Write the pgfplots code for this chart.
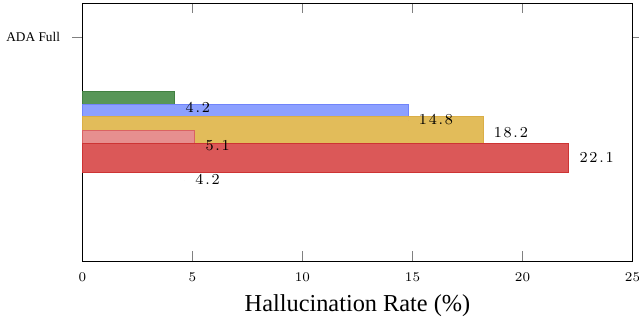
\documentclass[border=0pt]{standalone}
\usepackage{pgfplots}
\pgfplotsset{compat=1.18}
\usepackage{fontspec}
\setmainfont{Liberation Serif}
\definecolor{cgreen}{RGB}{88,150,88}
\definecolor{cgreenD}{RGB}{66,128,66}
\definecolor{cblue}{RGB}{140,160,255}
\definecolor{cblueD}{RGB}{112,132,250}
\definecolor{cyellow}{RGB}{226,188,90}
\definecolor{cyellowD}{RGB}{218,174,70}
\definecolor{cpink}{RGB}{230,143,143}
\definecolor{cpinkD}{RGB}{218,98,98}
\definecolor{cred}{RGB}{219,88,88}
\definecolor{credD}{RGB}{205,52,52}
\newcommand{\kk}{\mkern2mu}
\begin{document}
\begin{tikzpicture}
\begin{axis}[at={(0,0)}, anchor=south west, scale only axis,
  width=289.5pt, height=135.8pt,
  xmin=0, xmax=25, ymin=3, ymax=261, y dir=reverse,
  xtick={0,5,10,15,20,25}, ytick=\empty,
  tick align=inside, major tick length=5.5pt,
  tick label style={font=\scriptsize},
  xticklabel style={yshift=-2.8pt},
  xlabel={Hallucination Rate (\%)},
  xlabel style={at={(axis description cs:0.5,0)}, anchor=base, yshift=-26.3pt, font=\fontsize{12.8}{15}\selectfont},
  clip=false]
\addplot[xbar, bar width=13, bar shift=0pt, fill=cgreen, draw=cgreenD] coordinates {(4.2,97.5)};
\addplot[xbar, bar width=13, bar shift=0pt, fill=cblue, draw=cblueD] coordinates {(14.8,110.6)};
\addplot[xbar, bar width=26.6, bar shift=0pt, fill=cyellow, draw=cyellowD] coordinates {(18.2,130)};
\addplot[xbar, bar width=13.3, bar shift=0pt, fill=cpink, draw=cpinkD] coordinates {(5.1,136.65)};
\addplot[xbar, bar width=29, bar shift=0pt, fill=cred, draw=credD] coordinates {(22.1,157.8)};
\addplot[only marks, mark=*, mark size=0pt, mark options={draw=none, fill=none},
  nodes near coords, point meta=explicit symbolic, nodes near coords align=horizontal,
  every node near coord/.append style={anchor=west, inner sep=0pt, xshift=5.5pt, font=\fontsize{8.5}{10}\selectfont, text=black}]
  coordinates {(4.2,108) [$4\kk.\kk2$] (14.8,120) [$1\kk4\kk.\kk8$] (18.2,132.5) [$1\kk8\kk.\kk2$] (5.1,146) [$5\kk.\kk1$] (22.1,158) [$2\kk2\kk.\kk1$] (4.64,180) [$4\kk.\kk2$]};
\end{axis}
\begin{axis}[at={(0,0)}, anchor=south west, scale only axis,
  width=289.5pt, height=135.8pt,
  xmin=0, xmax=25, ymin=3, ymax=261, y dir=reverse,
  xtick=\empty, ytick={37}, yticklabels={ADA Full},
  tick align=outside, major tick length=5.5pt,
  axis line style={draw=none},
  yticklabel style={font=\scriptsize, xshift=-2.8pt}]
\end{axis}
\pgfresetboundingbox
\path[use as bounding box] (-43.4pt,-32.1pt) rectangle (292.9pt,137.4pt);
\end{tikzpicture}
\end{document}
